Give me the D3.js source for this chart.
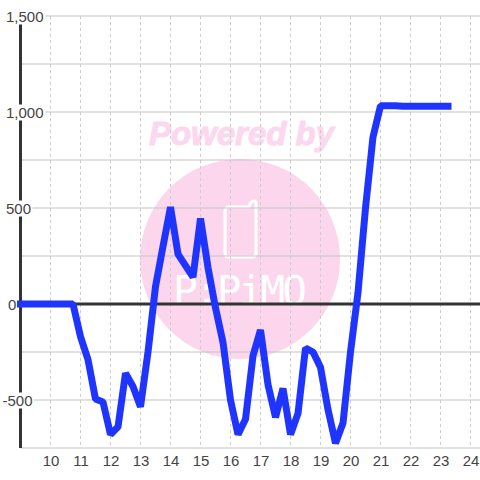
<!DOCTYPE html>
<html><head><meta charset="utf-8">
<style>html,body{margin:0;padding:0;background:#fff}svg{display:block}text{font-family:"Liberation Sans",sans-serif}</style>
<script src="https://cdn.jsdelivr.net/npm/d3@7"></script></head><body>
<script>
const hours=[9,9.25,9.5,9.75,10,10.25,10.5,10.75,11,11.25,11.5,11.75,12,12.25,12.5,12.75,13,13.25,13.5,13.75,14,14.25,14.5,14.75,15,15.25,15.5,15.75,16,16.25,16.5,16.75,17,17.25,17.5,17.75,18,18.25,18.5,18.75,19,19.25,19.5,19.75,20,20.25,20.5,20.75,21,21.25,21.5,21.75,22,22.25,22.5,22.75,23,23.25];
const values=[0,0,0,0,0,0,0,0,-170,-290,-495,-510,-680,-640,-360,-430,-535,-250,90,300,505,260,200,140,445,190,-20,-200,-500,-680,-600,-270,-135,-420,-590,-440,-680,-570,-230,-250,-330,-550,-725,-620,-250,60,500,870,1032,1032,1032,1030,1030,1030,1030,1030,1030,1030];
const xTicks=[10,11,12,13,14,15,16,17,18,19,20,21,22,23,24];
const gridTicks=[-750,-500,-250,0,250,500,750,1000,1250,1500];
const labelTicks=[-500,0,500,1000,1500];
const watermarkTitle="Powered by";
const watermarkName="P:PiMO";

const W=480,H=480;
const x=d3.scaleLinear().domain([9,24.3]).range([20.5,479.5]);
const y=d3.scaleLinear().domain([1500,-750]).range([16,448]);
const svg=d3.select("body").append("svg").attr("width",W).attr("height",H);

// watermark
const wm=svg.append("g");
wm.append("circle").attr("cx",240).attr("cy",259).attr("r",100).attr("fill","#fbd6ec");
wm.append("text").attr("x",241.5).attr("y",145).attr("text-anchor","middle")
  .attr("font-size",33).attr("font-weight","bold").attr("font-style","italic")
  .attr("fill","#fcd8ee").attr("stroke","#fcd8ee").attr("stroke-width",1).text(watermarkTitle);
wm.append("path").attr("d","M229 207H248Q250 207 250 204Q252 201 254 201Q256 201 256 204V253Q256 257 252 257H229Q225 257 225 253V211Q225 207 229 207Z")
  .attr("fill","none").attr("stroke","#fff").attr("stroke-width",3);
wm.append("text").attr("x",240).attr("y",305).attr("text-anchor","middle")
  .attr("font-size",41).attr("fill","#fff")
  .style("font-family","'DejaVu Sans Mono',monospace").attr("textLength",134).text(watermarkName);

// grids
svg.append("g").selectAll("line").data(gridTicks).join("line")
  .attr("x1",x(9)).attr("x2",W).attr("y1",d=>y(d)).attr("y2",d=>y(d))
  .attr("stroke","#c4c4c4").attr("stroke-width",1.2);
svg.append("g").selectAll("line").data(xTicks).join("line")
  .attr("x1",d=>x(d)).attr("x2",d=>x(d)).attr("y1",y(1500)).attr("y2",y(-750))
  .attr("stroke","#ccc").attr("stroke-dasharray","3,3");

// axis lines
svg.append("line").attr("x1",x(9)).attr("x2",x(9)).attr("y1",y(1500)).attr("y2",y(-750)).attr("stroke","#333").attr("stroke-width",3);
svg.append("line").attr("x1",x(9)).attr("x2",W).attr("y1",y(0)).attr("y2",y(0)).attr("stroke","#333").attr("stroke-width",3);

// y labels
const fmt=d3.format(",");
const yAxis=d3.axisLeft(y).tickValues(labelTicks).tickSize(0).tickFormat(d=>fmt(d).replace("\u2212","-"));
const gy=svg.append("g").call(yAxis);
gy.select(".domain").remove();
gy.selectAll(".tick text").attr("text-anchor","start").attr("x",d=>d<0?2.5:d===0?8:6).attr("dy",null).attr("y",5.5)
  .attr("font-size",15).attr("font-family",null).attr("fill","#444");
gy.selectAll(".tick").each(function(d){
  const t=d3.select(this), b=t.select("text").node().getBBox();
  t.insert("rect","text").attr("x",b.x).attr("y",-8).attr("width",b.width+1.5).attr("height",16).attr("fill","#fff");
});

// x labels
const xAxis=d3.axisBottom(x).tickValues(xTicks).tickSize(0).tickFormat(d3.format("d"));
const gx=svg.append("g").attr("transform",`translate(0,${y(-750)})`).call(xAxis);
gx.select(".domain").remove();
gx.selectAll(".tick text").attr("y",18).attr("dy",null).attr("font-size",15).attr("font-family",null).attr("fill","#444");

// line
const line=d3.line().x((d,i)=>x(hours[i])).y(d=>y(d));
svg.append("path").datum(values).attr("d",line).attr("fill","none").attr("stroke","#1f35ff")
  .attr("stroke-width",7).attr("stroke-linecap","square").attr("stroke-linejoin","bevel");
</script></body></html>
